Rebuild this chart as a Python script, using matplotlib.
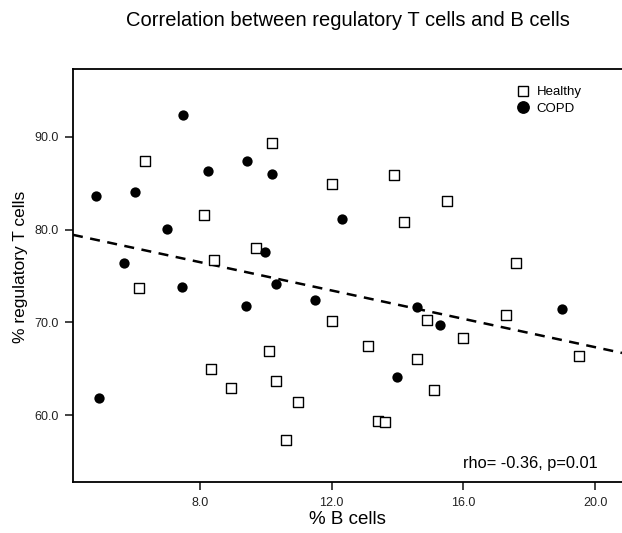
import matplotlib
matplotlib.use("Agg")
import matplotlib.pyplot as plt
from matplotlib.lines import Line2D

plt.rcParams['font.family'] = ['Liberation Sans', 'DejaVu Sans']

# % B cells / % regulatory T cells
healthy_b = [10.20, 6.33, 12.00, 8.13, 9.69, 8.43, 13.90, 15.50, 14.20, 17.60,
             6.15, 12.01, 10.10, 8.34, 10.30, 8.93, 10.99, 10.60, 14.90, 17.30,
             16.00, 13.10, 14.59, 15.11, 19.50, 13.40, 13.62]
healthy_t = [89.35, 87.35, 84.94, 81.54, 78.02, 76.73, 85.85, 83.11, 80.79, 76.37,
             73.71, 70.19, 66.93, 64.99, 63.70, 62.92, 61.41, 57.32, 70.30, 70.81,
             68.33, 67.50, 66.10, 62.70, 66.43, 59.40, 59.29]

copd_b = [7.49, 8.24, 9.44, 10.20, 4.84, 6.02, 12.30, 6.99, 9.98, 5.70,
          7.45, 10.30, 9.39, 11.50, 4.94, 14.60, 19.01, 15.30, 13.99]
copd_t = [92.3, 86.34, 87.42, 85.95, 83.65, 84.01, 81.14, 80.03, 77.56, 76.44,
          73.82, 74.11, 71.81, 72.42, 61.90, 71.70, 71.49, 69.70, 64.10]

# fitted line shown in the figure
fit_slope = -0.763
fit_intercept = 82.59
fit_x = [4.14, 20.82]

x_ticks = [8.0, 12.0, 16.0, 20.0]
y_ticks = [60.0, 70.0, 80.0, 90.0]

fig = plt.figure(figsize=(6.22, 5.33), dpi=100)
ax = fig.add_axes([73 / 622, 1 - 482 / 533, 1 - 73 / 622, (482 - 69) / 533])

ax.plot(fit_x, [fit_intercept + fit_slope * x for x in fit_x],
        color='black', linestyle=(0, (4, 3)), linewidth=1.8, zorder=1)
ax.scatter(healthy_b, healthy_t, marker='s', s=48, facecolor='white',
           edgecolor='black', linewidth=1.0, zorder=3)
ax.scatter(copd_b, copd_t, marker='o', s=55, color='black', linewidth=0, zorder=3)

ax.set_xlim(4.14, 20.82)
ax.set_ylim(52.8, 97.3)
ax.set_xticks(x_ticks)
ax.set_xticklabels([f"{t:.1f}" for t in x_ticks], fontsize=9)
ax.set_yticks(y_ticks)
ax.set_yticklabels([f"{t:.1f}" for t in y_ticks], fontsize=9)
ax.tick_params(direction='out', length=5.5, width=1.2, colors='#222222', pad=5)
ax.spines['right'].set_visible(False)
for s in ['left', 'bottom', 'top']:
    ax.spines[s].set_linewidth(1.3)

ax.set_xlabel('% B cells', fontsize=13.5, labelpad=2)
ax.set_ylabel('% regulatory T cells', fontsize=12.5)
ax.yaxis.set_label_coords(-0.082, 0.52)
fig.text((73 + 622) / 2 / 622, 1 - 20 / 533,
         'Correlation between regulatory T cells and B cells',
         ha='center', va='center', fontsize=14.5)

ax.text(0.956, 0.044, 'rho= -0.36, p=0.01', transform=ax.transAxes,
        ha='right', va='center', fontsize=11.8)

handles = [Line2D([], [], marker='s', linestyle='', markersize=7.5,
                  markerfacecolor='white', markeredgecolor='black', markeredgewidth=1.0),
           Line2D([], [], marker='o', linestyle='', markersize=8.2,
                  color='black')]
ax.legend(handles, ['Healthy', 'COPD'], loc='upper left',
          bbox_to_anchor=(515 / 622, 1 - 86 / 533), bbox_transform=fig.transFigure,
          frameon=False, fontsize=9.5, borderpad=0, borderaxespad=0,
          handletextpad=0.45, labelspacing=0.35, handlelength=1.2)

fig.savefig('out.png', dpi=100)
